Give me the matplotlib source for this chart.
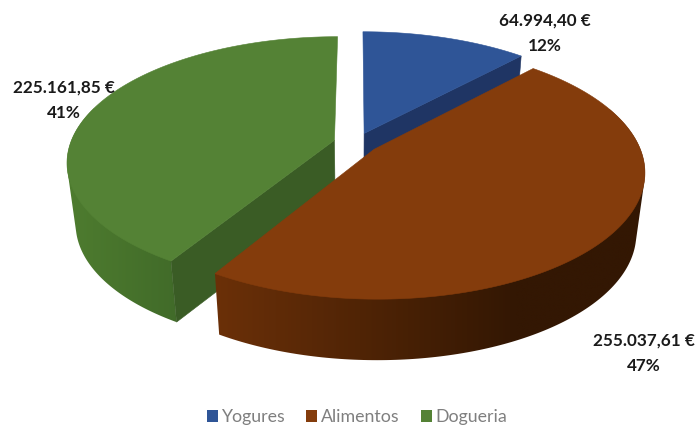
import numpy as np
import matplotlib
matplotlib.use('Agg')
import matplotlib.pyplot as plt
from matplotlib.patches import Patch, Polygon
from matplotlib.colors import to_rgb

# Data
categories = ['Yogures', 'Alimentos', 'Dogueria']
values = [64994.40, 255037.61, 225161.85]
value_labels = ['64.994,40 €', '255.037,61 €', '225.161,85 €']
pct_labels = ['12%', '47%', '41%']

# Colours
top_colors = ['#2f5597', '#843c0c', '#548235']
face_colors = ['#1f3564', '#4a2106', '#3a5c25']
side_left = ['#1f3564', '#6b3008', '#4e7c2f']
side_right = ['#1f3564', '#331703', '#416b29']

# Pie geometry, pixels
cx, cy = 356, 143
a, b = 264, 122
k = 0.17
explode = 0.085
depth = 61
shrink = 0.97
wall_span = [200, 300, 110]


def project(X, Y):
    s = 1 / (1 + k * Y)
    return cx + a * X * s, cy - b * Y * s


def project_low(X, Y):
    x, y = project(X, Y)
    return cx + (x - cx) * shrink, y + depth


def hull(points):
    # monotone chain, the wall is the hull of its top and bottom rims
    pts = sorted(set(map(tuple, points)))

    def half(seq):
        out = []
        for p in seq:
            while len(out) > 1 and ((out[-1][0] - out[-2][0]) * (p[1] - out[-2][1])
                                    - (out[-1][1] - out[-2][1]) * (p[0] - out[-2][0])) <= 0:
                out.pop()
            out.append(p)
        return out[:-1]
    return np.array(half(pts) + half(pts[::-1]))


fig = plt.figure(figsize=(6.97, 4.29), dpi=100)
ax = fig.add_axes([0, 0, 1, 1])

total = sum(values)
edges = np.concatenate([[0], np.cumsum(values) / total * 2 * np.pi])


def draw_slice(i, z):
    t1, t2 = edges[i], edges[i + 1]
    mid = (t1 + t2) / 2
    ox, oy = explode * np.sin(mid), explode * np.cos(mid)
    t = np.linspace(t1, t2, 200)
    X = ox + np.sin(t)
    Y = oy + np.cos(t)
    xt, yt = project(X, Y)
    xb, yb = project_low(X, Y)

    # outer wall, gradient left to right clipped to the wall shape
    front = Y < 0.3
    if front.any():
        xf = np.r_[xt[front], xb[front]]
        yf = np.r_[yt[front], yb[front]]
        wall = Polygon(hull(np.c_[xf, yf]), closed=True, facecolor='none', edgecolor='none')
        ax.add_patch(wall)
        x0 = xf.min()
        x1 = x0 + wall_span[i]
        c1, c2 = np.array(to_rgb(side_left[i])), np.array(to_rgb(side_right[i]))
        right = max(x1, xf.max() + 1)
        tt = np.clip((np.linspace(x0, right, 256) - x0) / (x1 - x0), 0, 1)
        grad = tt[None, :, None] * (c2 - c1) + c1
        im = ax.imshow(grad, extent=(x0, right, yf.max() + 2, yf.min() - 2), aspect='auto',
                       interpolation='bilinear', zorder=z + 1)
        im.set_clip_path(wall)

    # cut faces, only the ones turned to the viewer
    ax_, ay_ = project(ox, oy)
    bx_, by_ = project_low(ox, oy)
    if np.sin(t1) < -0.01:
        ax.fill([ax_, xt[0], xb[0], bx_], [ay_, yt[0], yb[0], by_],
                color=face_colors[i], lw=0.4, zorder=z + 2)
    if np.sin(t2) > 0.01:
        ax.fill([ax_, xt[-1], xb[-1], bx_], [ay_, yt[-1], yb[-1], by_],
                color=face_colors[i], lw=0.4, zorder=z + 2)
    # top
    ax.fill(np.r_[ax_, xt], np.r_[ay_, yt], color=top_colors[i], lw=0.4, zorder=z + 3)


# blue at the back, green next, brown in front
for z, i in enumerate([0, 2, 1]):
    draw_slice(i, z * 3)

ax.set_xlim(0, 697)
ax.set_ylim(429, 0)
ax.axis('off')

label_pos = [(545, 33), (644, 353.5), (64, 100)]
for pos, v, p in zip(label_pos, value_labels, pct_labels):
    ax.text(pos[0], pos[1], v + '\n' + p, ha='center', va='center', fontsize=12.3,
            fontweight='bold', family='Lato', color='#1a1a1a', linespacing=1.75, zorder=20)

handles = [Patch(facecolor=c, label=n) for c, n in zip(top_colors, categories)]
leg = fig.legend(handles=handles, loc='center', bbox_to_anchor=(357 / 697, 1 - 417 / 429), ncol=3,
                 frameon=False, handlelength=0.62, handleheight=0.62, handletextpad=0.22,
                 columnspacing=1.18, prop={'family': 'Lato', 'size': 12.8})
for txt in leg.get_texts():
    txt.set_color('#7f7f7f')

fig.savefig('out.png', dpi=100)
